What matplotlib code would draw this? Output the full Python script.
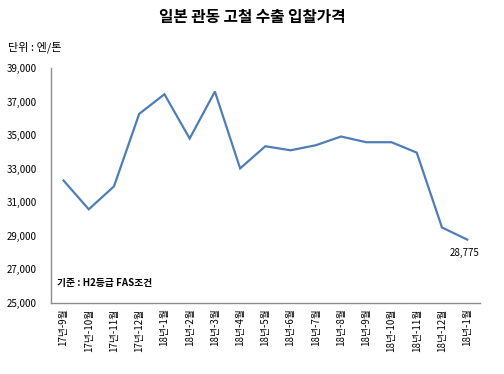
import matplotlib
matplotlib.use("Agg")
import matplotlib.pyplot as plt
from matplotlib.ticker import FuncFormatter

plt.rcParams['font.family'] = ['Noto Sans CJK KR', 'DejaVu Sans']

months = ['17년-9월', '17년-10월', '17년-11월', '17년-12월', '18년-1월',
          '18년-2월', '18년-3월', '18년-4월', '18년-5월', '18년-6월',
          '18년-7월', '18년-8월', '18년-9월', '18년-10월', '18년-11월',
          '18년-12월', '18년-1월']
prices = [32300, 30580, 31950, 36270, 37440, 34800, 37600, 33020, 34340,
          34100, 34400, 34920, 34580, 34580, 33960, 29500, 28775]

fig = plt.figure(figsize=(5.04, 3.74), dpi=100)
ax = fig.add_axes([0.101, 0.19, 0.851, 0.628])

x = range(len(months))
ax.plot(x, prices, color='#4F7DB5', linewidth=1.6, solid_joinstyle='miter')

ax.set_xlim(-0.5, len(months) - 0.5)
ax.set_ylim(25000, 39000)
ax.set_yticks(range(25000, 39001, 2000))
ax.yaxis.set_major_formatter(FuncFormatter(lambda v, p: '{:,.0f}'.format(v)))
ax.set_xticks(list(x))
ax.set_xticklabels(months, rotation=90, fontsize=7)
ax.tick_params(axis='y', labelsize=7, length=0, pad=10)
ax.tick_params(axis='x', length=0, pad=4)

for s in ['top', 'right']:
    ax.spines[s].set_visible(False)
for s in ['left', 'bottom']:
    ax.spines[s].set_color('#8c8c8c')
    ax.spines[s].set_linewidth(1.0)

# last value label
ax.annotate('{:,}'.format(prices[-1]), (len(months) - 1, prices[-1]),
            xytext=(-2, -6), textcoords='offset points',
            ha='center', va='top', fontsize=7)

ax.text(0.015, 0.085, '기준 : H2등급 FAS조건', transform=ax.transAxes,
        fontsize=7, fontweight='bold', ha='left', va='center')

fig.text(0.5, 0.955, '일본 관동 고철 수출 입찰가격', ha='center', va='center',
         fontsize=11.3, fontweight='bold')
fig.text(0.016, 0.873, '단위 : 엔/톤', ha='left', va='center', fontsize=8)

fig.savefig('out.png', dpi=100)
